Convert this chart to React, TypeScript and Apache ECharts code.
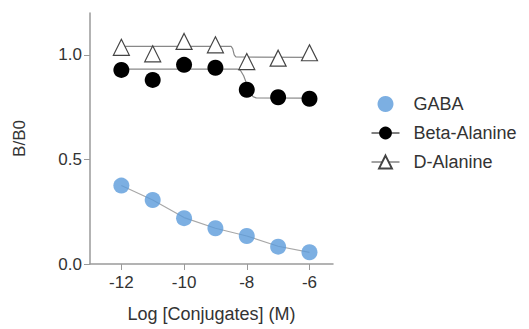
import React, { useEffect, useRef } from "react";
import * as echarts from "echarts";

const logConc = [-12, -11, -10, -9, -8, -7, -6];
const gaba = [0.375, 0.306, 0.219, 0.171, 0.134, 0.083, 0.056];
const betaAlanine = [0.928, 0.88, 0.952, 0.938, 0.833, 0.797, 0.79];
const dAlanine = [1.036, 1.005, 1.064, 1.048, 0.968, 0.984, 1.01];

const gabaFit: [number, number][] = [
  [-12, 0.375], [-11, 0.306], [-10, 0.222], [-9, 0.171], [-8, 0.134], [-7, 0.085], [-6, 0.056],
];
const betaFit: [number, number][] = [
  [-12, 0.932], [-8.3, 0.932], [-8.2, 0.925], [-8.1, 0.9], [-8.0, 0.86], [-7.9, 0.82],
  [-7.8, 0.8], [-7.7, 0.794], [-6, 0.793],
];
const dFit: [number, number][] = [
  [-12, 1.04], [-8.5, 1.04], [-8.45, 1.03], [-8.4, 1.0], [-8.35, 0.99], [-6, 0.988],
];

const xTicks = [-12, -10, -8, -6];
const yTicks = [0, 0.5, 1.0];
const names = ["GABA", "Beta-Alanine", "D-Alanine"];

const FONT = "Liberation Sans, Arial, sans-serif";
const AXIS = "#9a9a9a";
const TEXT = "#333";

export default function App() {
  const ref = useRef<HTMLDivElement>(null);
  useEffect(() => {
    if (!ref.current) return;
    const chart = echarts.init(ref.current, null, { renderer: "svg" });
    const pts = (ys: number[]) => logConc.map((x, i) => [x, ys[i]]);
    chart.setOption({
      animation: false,
      textStyle: { fontFamily: FONT },
      grid: { left: 90, right: 196, top: 13, bottom: 65 },
      xAxis: {
        type: "value",
        min: -13,
        max: -5.25,
        splitLine: { show: false },
        axisLine: { show: true, onZero: false, lineStyle: { color: AXIS, width: 1.5 } },
        axisTick: { show: true, length: 6, customValues: xTicks, lineStyle: { color: AXIS } },
        axisLabel: { customValues: xTicks, margin: 10, fontSize: 17, color: TEXT, fontFamily: FONT },
        name: "Log [Conjugates] (M)",
        nameLocation: "middle",
        nameGap: 41,
        nameTextStyle: { fontSize: 18, color: TEXT, fontFamily: FONT },
      },
      yAxis: {
        type: "value",
        min: 0,
        max: 1.2,
        splitLine: { show: false },
        axisLine: { show: true, lineStyle: { color: AXIS, width: 1.5 } },
        axisTick: { show: true, length: 6, customValues: yTicks, lineStyle: { color: AXIS } },
        axisLabel: {
          customValues: yTicks,
          margin: 8,
          fontSize: 17,
          color: TEXT,
          fontFamily: FONT,
          formatter: (v: number) => v.toFixed(1),
        },
        name: "B/B0",
        nameLocation: "middle",
        nameGap: 62,
        nameTextStyle: { fontSize: 17, color: TEXT, fontFamily: FONT },
      },
      legend: {
        orient: "vertical",
        left: 366,
        top: 90,
        itemWidth: 28,
        itemHeight: 16,
        itemGap: 11,
        textStyle: { fontSize: 18, color: TEXT, fontFamily: FONT, padding: [0, 0, 0, 9] },
        data: [
          { name: names[0] },
          { name: names[1], lineStyle: { color: "#000", width: 1, opacity: 1 } },
          { name: names[2], lineStyle: { color: "#444", width: 1, opacity: 1 } },
        ],
      },
      series: [
        {
          type: "line",
          data: gabaFit,
          symbol: "none",
          lineStyle: { color: "#a8a8a8", width: 1.2 },
          silent: true,
          z: 1,
        },
        {
          type: "line",
          data: betaFit,
          symbol: "none",
          lineStyle: { color: "#888", width: 1.2 },
          silent: true,
          z: 1,
        },
        {
          type: "line",
          data: dFit,
          symbol: "none",
          lineStyle: { color: "#888", width: 1.2 },
          silent: true,
          z: 1,
        },
        {
          name: names[0],
          type: "scatter",
          data: pts(gaba),
          symbol: "circle",
          symbolSize: 16,
          itemStyle: { color: "#5b9bdb" },
          z: 3,
        },
        {
          name: names[1],
          type: "line",
          data: pts(betaAlanine),
          symbol: "circle",
          symbolSize: 16,
          showSymbol: true,
          itemStyle: { color: "#000" },
          lineStyle: { width: 0, opacity: 0 },
          z: 3,
        },
        {
          name: names[2],
          type: "line",
          data: pts(dAlanine),
          symbol: "triangle",
          symbolSize: 16,
          showSymbol: true,
          itemStyle: { color: "#fff", borderColor: "#444", borderWidth: 1.2 },
          lineStyle: { width: 0, opacity: 0 },
          z: 3,
        },
      ],
    });
    return () => chart.dispose();
  }, []);
  return <div ref={ref} style={{ width: 529, height: 329, position: "absolute", left: 0, top: 0 }} />;
}
